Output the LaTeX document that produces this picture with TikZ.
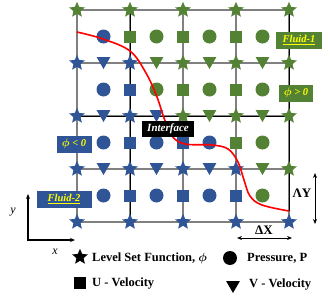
\documentclass[tikz,border=0pt]{standalone}
\usepackage{fontspec}
\usepackage{amsmath}
\setmainfont{Liberation Serif}
\usetikzlibrary{shapes.geometric,arrows.meta}

\definecolor{fgreen}{HTML}{548235}
\definecolor{fblue}{HTML}{2F5597}
\definecolor{fyellow}{HTML}{FFFF00}

\tikzset{
  lsf/.style={star,star points=5,star point ratio=2.2,fill=#1,inner sep=0pt,minimum size=16.5pt},
  pres/.style={circle,fill=#1,inner sep=0pt,minimum size=14pt},
  uvel/.style={rectangle,fill=#1,inner sep=0pt,minimum size=12pt},
  vvel/.style={regular polygon,regular polygon sides=3,shape border rotate=180,fill=#1,inner sep=0pt,minimum size=16pt,yshift=2pt},
  tag/.style={fill=#1,text=fyellow,font=\fontsize{10.5}{12}\bfseries\itshape,inner sep=0pt,minimum height=17pt},
  gridline/.style={gray,line width=1.2pt},
  cellline/.style={black,line width=0.8pt},
  legtext/.style={anchor=west,font=\fontsize{12.5}{14}\bfseries,inner sep=0pt},
}

\begin{document}
\begin{tikzpicture}[x=1pt,y=-1pt,>={Stealth[length=5pt,width=4pt]}]
\useasboundingbox (0,0) rectangle (330,300);

% mesh
\foreach \k in {0,...,4} {
  \draw[gridline] (77+53*\k,10) -- (77+53*\k,222);
  \draw[gridline] (77,10+53*\k) -- (289,10+53*\k);
}
\draw[cellline] (130,10) -- (130,222);
\draw[cellline] (289,10) -- (289,211);
\draw[cellline] (77,116) -- (289,116);

% level set function at the nodes
\foreach \row/\cols in {0/{fgreen,fgreen,fgreen,fgreen,fgreen},
                        1/{fblue,fblue,fgreen,fgreen,fgreen},
                        2/{fblue,fblue,fgreen,fgreen,fgreen},
                        3/{fblue,fblue,fblue,fblue,fgreen},
                        4/{fblue,fblue,fblue,fblue,fblue}}
  \foreach \c [count=\i from 0] in \cols
    \node[lsf=\c] (s\i\row) at (77+53*\i,10+53*\row) {};

% pressure at the cell centres
\foreach \row/\cols in {0/{fblue,fgreen,fgreen,fgreen},
                        1/{fblue,fgreen,fgreen,fgreen},
                        2/{fblue,fblue,fblue,fgreen},
                        3/{fblue,fblue,fblue,fgreen}}
  \foreach \c [count=\i from 0] in \cols
    \node[pres=\c] (p\i\row) at (103.5+53*\i,36.5+53*\row) {};

% u on the vertical faces
\foreach \row/\cols in {0/{fgreen,fgreen,fgreen},
                        1/{fblue,fgreen,fgreen},
                        2/{fblue,fblue,fgreen},
                        3/{fblue,fblue,fblue}}
  \foreach \c [count=\i from 0] in \cols
    \node[uvel=\c] (u\i\row) at (130+53*\i,36.5+53*\row) {};

% v on the horizontal faces
\foreach \row/\cols in {0/{fblue,fgreen,fgreen,fgreen},
                        1/{fblue,fblue,fgreen,fgreen},
                        2/{fblue,fblue,fblue,fgreen}}
  \foreach \c [count=\i from 0] in \cols
    \node[vvel=\c] (v\i\row) at (103.5+53*\i,63+53*\row) {};

% interface
\draw[red,line width=1.6pt] plot[smooth,tension=0.6] coordinates {(77,32) (103,39) (130,51)
  (146,73) (157,97) (164,118) (172,136) (185,144) (212,145) (228,149) (238,162)
  (244,180) (250,196) (262,205) (289,211)};

\node[fill=black,text=white,font=\fontsize{11}{12}\bfseries\itshape,minimum width=52pt,minimum height=16pt,inner sep=0pt] (iface) at (168,129) {Interface};

\node[tag=fgreen,minimum width=46pt] (fluid1) at (299,40) {\underline{Fluid-1}};
\node[tag=fgreen,minimum width=34pt] (phipos) at (296,93) {$\boldsymbol{\phi}$ > 0};
\node[tag=fblue,minimum width=35pt] (phineg) at (74,144) {$\boldsymbol{\phi}$ < 0};
\node[tag=fblue,minimum width=55pt] (fluid2) at (64,199) {\underline{Fluid-2}};

% axes
\coordinate (ytip) at (28,194);
\coordinate (xtip) at (75,240);
\draw[<->,line width=1.2pt] (ytip) |- (xtip);
\node[font=\fontsize{12}{14}\itshape] (ylab) at (13,212) {y};
\node[font=\fontsize{12}{14}\itshape] (xlab) at (55,252) {x};

% spacing
\coordinate (dytop) at (315,173);
\coordinate (dybot) at (315,224);
\draw[<->,line width=0.9pt] (dytop) -- (dybot);
\node[font=\fontsize{13}{14}\bfseries] (dy) at (302,193) {ΛY};
\coordinate (dxl) at (237,238);
\coordinate (dxr) at (292,238);
\draw[<->,line width=0.9pt] (dxl) -- (dxr);
\node[font=\fontsize{13}{14}\bfseries] (dx) at (264,230) {ΔX};

% legend
\node[lsf=black] (kstar) at (80,257) {};
\node[legtext] (tstar) at (92,258) {Level Set Function, $\boldsymbol{\phi}$};
\node[pres=black] (kcirc) at (230,258) {};
\node[legtext] (tcirc) at (247,258) {Pressure, P};
\node[uvel=black] (ksq) at (80,283) {};
\node[legtext] (tsq) at (92,284) {U - Velocity};
\node[vvel=black] (ktri) at (233,287) {};
\node[legtext] (ttri) at (249,285) {V - Velocity};
\end{tikzpicture}
\end{document}
